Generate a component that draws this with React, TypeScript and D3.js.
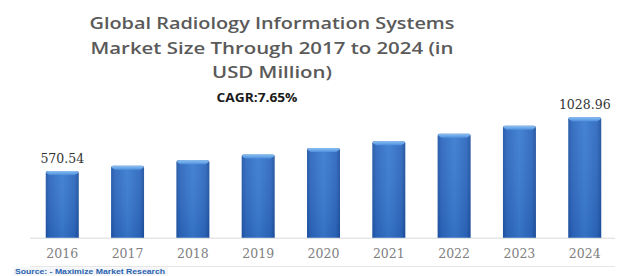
import React from "react";
import * as d3 from "d3";

const years = ["2016", "2017", "2018", "2019", "2020", "2021", "2022", "2023", "2024"];
const values = [570.54, 614.2, 661.2, 711.8, 766.2, 824.8, 887.9, 955.8, 1028.96];
const shownLabels = ["570.54", "", "", "", "", "", "", "", "1028.96"];
const titleLines = [
  "Global Radiology Information Systems",
  "Market  Size Through 2017 to 2024 (in",
  "USD Million)",
];
const cagrText = "CAGR:7.65%";
const sourceText = "Source: - Maximize Market Research";

const W = 622;
const H = 276;

export default function App() {
  const x = d3
    .scaleBand<string>()
    .domain(years)
    .range([29.6, 617.4])
    .paddingInner(0.495)
    .paddingOuter(0.2475);
  const y = d3.scaleLinear().domain([0, 1028.96]).range([237.7, 117.3]);
  const bw = x.bandwidth();
  const baseY = y(0);

  const titleWidths = [365, 363, 120];
  const titleBaselines = [29, 54, 78];

  return (
    <div style={{ position: "fixed", left: 0, top: 0, width: W, height: H, background: "#fff" }}>
      <svg width={W} height={H} viewBox={`0 0 ${W} ${H}`}>
        <defs>
          <linearGradient id="barGrad" x1="0" x2="1" y1="0" y2="0">
            <stop offset="0" stopColor="#1f55a6" />
            <stop offset="0.12" stopColor="#2d67bd" />
            <stop offset="0.5" stopColor="#3a7bd0" />
            <stop offset="0.88" stopColor="#2d67bd" />
            <stop offset="1" stopColor="#1d4f9c" />
          </linearGradient>
          <linearGradient id="capGrad" x1="0" x2="0" y1="0" y2="1">
            <stop offset="0" stopColor="#8cc0f2" />
            <stop offset="1" stopColor="#4d8fdc" />
          </linearGradient>
          <linearGradient id="vShade" x1="0" x2="0" y1="0" y2="1">
            <stop offset="0" stopColor="#ffffff" stopOpacity="0.06" />
            <stop offset="1" stopColor="#0a2a66" stopOpacity="0.12" />
          </linearGradient>
        </defs>
        <rect x={0} y={0} width={W} height={H} fill="#ffffff" />

        {titleLines.map((t, i) => (
          <text
            key={i}
            x={272}
            y={titleBaselines[i]}
            textAnchor="middle"
            fontFamily="'Open Sans', sans-serif"
            fontWeight={600}
            fontSize={17}
            fill="#5a5a5a"
            textLength={titleWidths[i]}
            lengthAdjust="spacingAndGlyphs"
          >
            {t}
          </text>
        ))}
        <text
          x={257}
          y={102}
          textAnchor="middle"
          fontFamily="'Open Sans', sans-serif"
          fontWeight={700}
          fontSize={12}
          fill="#1a1a1a"
          textLength={81}
          lengthAdjust="spacingAndGlyphs"
        >
          {cagrText}
        </text>

        <line x1={30} x2={615} y1={baseY + 0.5} y2={baseY + 0.5} stroke="#d9d9d9" strokeWidth={1} />
        <line x1={30} x2={615} y1={266.5} y2={266.5} stroke="#e6e6e6" strokeWidth={1} />

        {years.map((yr, i) => {
          const x0 = x(yr)!;
          const top = y(values[i]);
          const h = baseY - top;
          const cap = 4;
          return (
            <g key={yr}>
              <path
                d={`M${x0},${baseY} L${x0},${top + 2} Q${x0},${top} ${x0 + 2},${top} L${x0 + bw - 2},${top} Q${x0 + bw},${top} ${x0 + bw},${top + 2} L${x0 + bw},${baseY} Z`}
                fill="url(#barGrad)"
              />
              <rect x={x0} y={top} width={bw} height={h} fill="url(#vShade)" />
              <path
                d={`M${x0 + 0.5},${top + 2} Q${x0 + 0.5},${top} ${x0 + 2.5},${top} L${x0 + bw - 2.5},${top} Q${x0 + bw - 0.5},${top} ${x0 + bw - 0.5},${top + 2} L${x0 + bw - 4},${top + cap} L${x0 + 4},${top + cap} Z`}
                fill="url(#capGrad)"
              />
              {shownLabels[i] && (
                <text
                  x={x0 + bw / 2}
                  y={top - 8}
                  textAnchor="middle"
                  fontFamily="'DejaVu Serif', serif"
                  fontSize={12.5}
                  fill="#333333"
                >
                  {shownLabels[i]}
                </text>
              )}
              <text
                x={x0 + bw / 2}
                y={258}
                textAnchor="middle"
                fontFamily="'DejaVu Serif', serif"
                fontSize={12.5}
                fill="#808080"
              >
                {yr}
              </text>
            </g>
          );
        })}

        <rect x={13} y={267.5} width={155} height={8} fill="#f3f5f8" />
        <text
          x={15}
          y={274}
          fontFamily="'Liberation Sans', Arial, sans-serif"
          fontWeight={700}
          fontSize={8}
          fill="#2a63b0"
          textLength={150}
          lengthAdjust="spacingAndGlyphs"
        >
          {sourceText}
        </text>
      </svg>
    </div>
  );
}
